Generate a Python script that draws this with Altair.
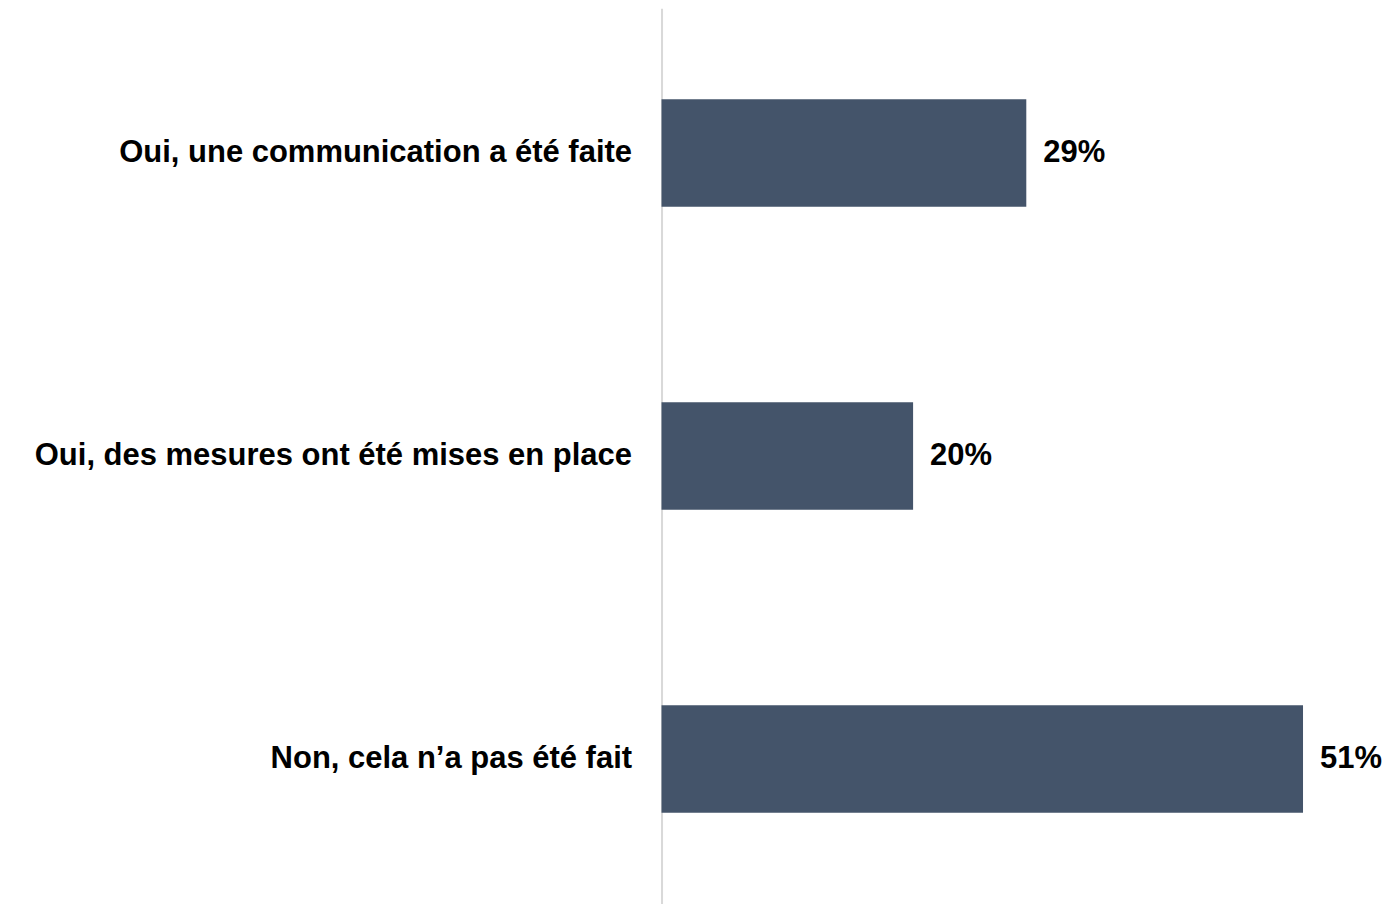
import altair as alt
import pandas as pd

categories = [
    "Oui, une communication a été faite",
    "Oui, des mesures ont été mises en place",
    "Non, cela n’a pas été fait",
]
values = [29, 20, 51]
labels = ["29%", "20%", "51%"]

df = pd.DataFrame({"cat": categories, "val": values, "label": labels})

FONT = "Liberation Sans"

y = alt.Y(
    "cat:N",
    sort=categories,
    title=None,
    scale=alt.Scale(paddingInner=0.645, paddingOuter=0.30),
    axis=alt.Axis(
        ticks=False,
        tickSize=0,
        labelPadding=30,
        labelFontSize=31,
        labelFont=FONT,
        labelFontWeight="bold",
        labelColor="#000000",
        domainColor="#d9d9d9",
        domainWidth=2,
        minExtent=654,
        maxExtent=654,
        labelLimit=700,
        grid=False,
    ),
)
x = alt.X("val:Q", axis=None, scale=alt.Scale(domain=[0, 57.2]))

bars = alt.Chart(df).mark_bar(color="#44546a").encode(x=x, y=y)
text = alt.Chart(df).mark_text(
    align="left", baseline="middle", dx=17, font=FONT, fontSize=31,
    fontWeight="bold", color="#000000"
).encode(x=x, y=y, text="label:N")

chart = (bars + text).properties(width=720, height=896, padding=0).configure_view(stroke=None)

chart.save("out.html", embed_options={"renderer": "svg", "actions": False})
